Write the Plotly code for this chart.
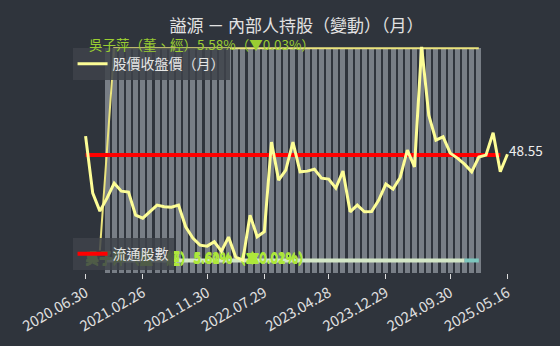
import plotly.graph_objects as go

# ---------------- data ----------------
tick_labels = ["2020.06.30", "2021.02.26", "2021.11.30", "2022.07.29",
               "2023.04.28", "2023.12.29", "2024.09.30", "2025.05.16"]
tick_months = [0, 8, 17, 25, 34, 42, 51, 59]   # month index of each tick label

# monthly close price (股價收盤價), month index 0..59
close_price = [54.0, 36.9, 31.5, 35.4, 39.9, 37.5, 37.2, 30.3, 29.4, 31.3,
               33.3, 32.8, 32.7, 33.3, 26.8, 23.4, 21.3, 21.0, 22.3, 19.5,
               23.7, 17.7, 16.8, 30.3, 23.8, 25.3, 52.2, 40.8, 43.8, 52.2,
               43.3, 43.5, 44.1, 41.4, 41.1, 38.4, 43.5, 31.3, 33.3, 31.3,
               31.4, 34.8, 39.6, 38.1, 41.6, 49.8, 44.8, 80.8, 60.3, 52.8,
               53.8, 48.9, 47.4, 45.6, 43.3, 47.7, 48.3, 55.0, 43.3, 48.55]

# outstanding shares (流通股數, 張), month index 0..58
float_shares = [52000, 52000, 52000, 52000, 52000, 52000, 52000, 52000, 52000, 52000,
                52000, 52000, 52000, 52000, 52000, 52000, 52000, 52000, 52000, 52000,
                52000, 52000, 52000, 52000, 52000, 52000, 52000, 52000, 52000, 52000,
                52000, 52000, 52000, 52000, 52000, 52000, 52000, 52000, 52000, 52000,
                52000, 52000, 52000, 52000, 52000, 52000, 52000, 52000, 52000, 52000,
                52000, 52000, 52000, 52000, 52000, 52000, 52000, 52000, 52000]

# monthly insider-share bars (%), month index 3..55
bar_start = 3
insider_bars = [100, 100, 100, 100, 100, 100, 100, 100, 100, 100,
                100, 100, 100, 100, 100, 100, 100, 100, 100, 100,
                100, 100, 100, 100, 100, 100, 100, 100, 100, 100,
                100, 100, 100, 100, 100, 100, 100, 100, 100, 100,
                100, 100, 100, 100, 100, 100, 100, 100, 100, 100,
                100, 100, 100]

# cumulative insider total line (%), month index 2..55
total_start = 2
insider_total = [10, None, 100, 100, 100, 100, 100, 100, 100, 100,
                 100, 100, 100, 100, 100, 100, 100, 100, 100, 100,
                 100, 100, 100, 100, 100, 100, 100, 100, 100, 100,
                 100, 100, 100, 100, 100, 100, 100, 100, 100, 100,
                 100, 100, 100, 100, 100, 100, 100, 100, 100, 100,
                 100, 100, 100, 100]

# holding of 吳子萍 (%), before / after last change
hold_a_start = 3
holding_a = [5.61, 5.61, 5.61, 5.61, 5.61, 5.61, 5.61, 5.61, 5.61, 5.61,
             5.61, 5.61, 5.61, 5.61, 5.61, 5.61, 5.61, 5.61, 5.61, 5.61,
             5.61, 5.61, 5.61, 5.61, 5.61, 5.61, 5.61, 5.61, 5.61, 5.61,
             5.61, 5.61, 5.61, 5.61, 5.61, 5.61, 5.61, 5.61, 5.61, 5.61,
             5.61, 5.61, 5.61, 5.61, 5.61, 5.61, 5.61, 5.61, 5.61, 5.61,
             5.61]
hold_b_start = 53
holding_b = [5.58, 5.58, 5.58]

top_label = "吳子萍（董、經）5.58%（▼0.03%）"
cluster_labels = ["吳子萍（董、經）5.61%（▲0.01%）",
                  "吳子萍（董、經）5.60%（▼0.02%）",
                  "吳子萍（董、經）5.62%（▲0.02%）",
                  "吳子萍（董、經）5.60%（▼0.01%）",
                  "吳子萍（董、經）5.61%（▲0.01%）"]
cluster_levels = [5.3, 5.8, 6.3, 5.55, 6.05]   # % level where each label sits

# ---------------- figure ----------------
BG = "#2f343c"
FONT = "Noto Sans CJK TC"

fig = go.Figure()

fig.add_trace(go.Bar(
    x=[bar_start + i for i in range(len(insider_bars))], y=insider_bars,
    width=0.7, marker=dict(color="#787e86", line=dict(width=0)),
    showlegend=False, hoverinfo="skip", yaxis="y"))

fig.add_trace(go.Scatter(
    x=[total_start + i for i in range(len(insider_total))], y=insider_total,
    mode="lines", connectgaps=True, line=dict(color="#ebe47e", width=2),
    showlegend=False, hoverinfo="skip", yaxis="y"))

fig.add_trace(go.Scatter(
    x=[hold_a_start + i for i in range(len(holding_a))], y=holding_a,
    mode="lines", line=dict(color="#d3e6c6", width=4),
    showlegend=False, hoverinfo="skip", yaxis="y"))
fig.add_trace(go.Scatter(
    x=[hold_b_start + i for i in range(len(holding_b))], y=holding_b,
    mode="lines", line=dict(color="#7cc6bd", width=4),
    showlegend=False, hoverinfo="skip", yaxis="y"))

# overlapping change labels (drawn inside the plot, beneath the legends)
fig.add_trace(go.Scatter(
    x=[0 for _ in cluster_labels], y=cluster_levels, text=cluster_labels,
    mode="text", textposition="middle right",
    textfont=dict(family=FONT, size=13.5, color="#aee83a"),
    showlegend=False, hoverinfo="skip", yaxis="y"))

fig.add_trace(go.Scatter(
    x=list(range(len(float_shares))), y=float_shares,
    mode="lines", line=dict(color="#ff0000", width=4),
    name="流通股數", legend="legend2", yaxis="y2"))

fig.add_trace(go.Scatter(
    x=list(range(len(close_price))), y=close_price,
    mode="lines", line=dict(color="#fdfd96", width=3),
    name="股價收盤價（月）", legend="legend", yaxis="y3"))

annotations = [
    dict(x=0, y=1.009, xref="x", yref="paper", xanchor="left", yanchor="middle",
         xshift=1, text=top_label, showarrow=False,
         font=dict(family=FONT, size=13.5, color="#9acd32")),
    dict(x=len(close_price) - 1, y=close_price[-1], xref="x", yref="y3",
         xanchor="left", yanchor="middle", xshift=0, yshift=4,
         text=f"{close_price[-1]:.2f}", showarrow=False,
         font=dict(family=FONT, size=13.5, color="#eeeeee")),
]

fig.update_layout(
    width=560, height=346,
    margin=dict(l=82, r=49, t=46, b=73),
    paper_bgcolor=BG, plot_bgcolor=BG,
    font=dict(family=FONT, color="#e0e0e0"),
    title=dict(text="謚源 － 內部人持股（變動）（月）", x=0.5, xref="paper",
               y=0.925, yref="container", yanchor="middle",
               font=dict(family=FONT, size=17, color="#e2e2e2")),
    bargap=0,
    xaxis=dict(range=[-0.5, len(close_price) - 0.5], tickvals=tick_months,
               ticktext=tick_labels, tickangle=-30, ticks="outside", ticklen=5,
               tickcolor="#dddddd", showgrid=False, zeroline=False,
               showline=False, tickfont=dict(size=14.5, color="#e0e0e0")),
    yaxis=dict(range=[0, 101], visible=False, showgrid=False),
    yaxis2=dict(range=[0, 100000], overlaying="y", visible=False, showgrid=False),
    yaxis3=dict(range=[12.94, 81.04], overlaying="y", visible=False, showgrid=False),
    legend=dict(x=-0.022, y=0.991, xanchor="left", yanchor="top",
                bgcolor="rgba(62,67,74,0.85)", borderwidth=0,
                font=dict(family=FONT, size=14, color="#e6e6e6")),
    legend2=dict(x=-0.022, y=0.154, xanchor="left", yanchor="top",
                 bgcolor="rgba(62,67,74,0.85)", borderwidth=0,
                 font=dict(family=FONT, size=14, color="#e6e6e6")),
    annotations=annotations,
)

fig.write_html("out.html")
